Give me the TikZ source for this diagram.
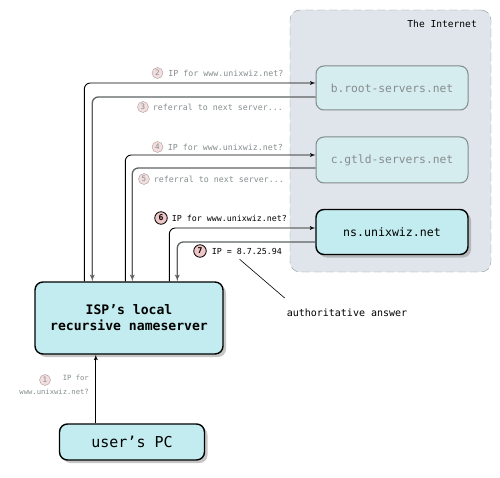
\documentclass[tikz,border=0pt]{standalone}
\usepackage{fontspec}
\setmonofont{DejaVu Sans Mono}
\usepackage{tikz}
\usetikzlibrary{arrows}
\usetikzlibrary{positioning}
\usetikzlibrary{shadows}

\definecolor{netbg}{HTML}{DFE5EA}
\definecolor{netline}{HTML}{8E979E}
\definecolor{boxcyan}{HTML}{C2ECEF}
\definecolor{fadedcyan}{HTML}{D6EDEF}
\definecolor{fadedline}{HTML}{7F8B8C}
\definecolor{fadedtext}{HTML}{858D8F}
\definecolor{numfill}{HTML}{F2DEDE}
\definecolor{numline}{HTML}{B09A9A}
\definecolor{darkpink}{HTML}{EFC6C6}
\definecolor{replygray}{HTML}{5E6262}

\begin{document}
\begin{tikzpicture}[x=1pt, y=-1pt, font=\ttfamily]
		\tikzset{server/.style={draw=black, line width=1.4pt, fill=boxcyan, rounded corners=8pt,
				drop shadow={opacity=0.45, shadow xshift=3pt, shadow yshift=-3pt}}}
		\tikzset{faded/.style={draw=fadedline, line width=1pt, fill=fadedcyan, text=fadedtext, rounded corners=8pt}}
		\tikzset{query/.style={->, > = latex', line width=0.9pt, rounded corners=6pt}}
		\tikzset{reply/.style={->, > = latex', draw=replygray, line width=1.3pt, rounded corners=6pt}}
		\tikzset{num/.style={circle, draw=numline, fill=numfill, text=fadedtext, inner sep=0pt,
				minimum size=11pt, font=\ttfamily\fontsize{7.5}{8}\selectfont}}
		\tikzset{numdark/.style={num, draw=black, line width=0.8pt, fill=darkpink, text=black,
				minimum size=12.5pt, font=\ttfamily\bfseries\fontsize{8}{8}\selectfont}}
		\tikzset{lbl/.style={text=fadedtext, inner sep=1pt, font=\ttfamily\fontsize{8.3}{10}\selectfont}}
		\useasboundingbox (0,0) rectangle (500,478);
		%the internet
		\node[draw=netline, dashed, dash pattern=on 8pt off 4pt, fill=netbg, rounded corners=10pt,
			minimum width=201pt, minimum height=262pt] (inet) at (390.5,141) {};
		\node[anchor=east, inner sep=0pt, font=\ttfamily\fontsize{9.6}{10}\selectfont] (inettxt) at (477,24) {The Internet};
		%servers
		\node[faded, minimum width=152pt, minimum height=44pt, font=\ttfamily\fontsize{11.3}{12}\selectfont] (broot) at (392,88) {b.root-servers.net};
		\node[faded, minimum width=152pt, minimum height=46pt, font=\ttfamily\fontsize{11.3}{12}\selectfont] (cgtld) at (392,160) {c.gtld-servers.net};
		\node[server, minimum width=152pt, minimum height=45pt, font=\ttfamily\fontsize{11.6}{12}\selectfont] (ns) at (392,232) {ns.unixwiz.net};
		\node[server, minimum width=188pt, minimum height=72pt, align=center,
			font=\ttfamily\bfseries\fontsize{13.1}{16}\selectfont] (isp) at (129,318) {ISP’s local\\recursive nameserver};
		\node[server, minimum width=145pt, minimum height=36pt, font=\ttfamily\fontsize{15}{16}\selectfont] (pc) at (132,442) {user’s PC};
		%labels
		\node[num] (n1) at (45,380) {1};
		\node[lbl, anchor=north east, align=right, font=\ttfamily\fontsize{7.2}{14}\selectfont] (t1) at (90,374) {IP for\\www.unixwiz.net?};
		\node[num] (n2) at (157.5,73) {2};
		\node[lbl, right=4pt of n2] (t2) {IP for www.unixwiz.net?};
		\node[num] (n3) at (143,107) {3};
		\node[lbl, right=3pt of n3] (t3) {referral to next server...};
		\node[num] (n4) at (157.5,147) {4};
		\node[lbl, right=3.5pt of n4] (t4) {IP for www.unixwiz.net?};
		\node[num] (n5) at (144,179) {5};
		\node[lbl, right=3pt of n5] (t5) {referral to next server...};
		\node[numdark] (n6) at (161,218) {6};
		\node[lbl, text=black, right=3pt of n6] (t6) {IP for www.unixwiz.net?};
		\node[numdark] (n7) at (200,251) {7};
		\node[lbl, text=black, right=4pt of n7] (t7) {IP = 8.7.25.94};
		\node[inner sep=1pt, font=\ttfamily\fontsize{10}{10}\selectfont] (auth) at (347,313) {authoritative answer};
		%edges
		\coordinate (pcup) at ([xshift=37pt]pc.north west);
		\draw[query] (pcup) -- (pcup |- isp.south);
		\draw[query] ([xshift=50pt]isp.north west) |- ([yshift=5pt]broot.west);
		\draw[reply] ([yshift=-9pt]broot.west) -| ([xshift=58pt]isp.north west);
		\draw[query] ([xshift=91pt]isp.north west) |- ([yshift=5pt]cgtld.west);
		\draw[reply] ([yshift=-8pt]cgtld.west) -| ([xshift=98pt]isp.north west);
		\draw[query] ([xshift=135pt]isp.north west) |- ([yshift=4pt]ns.west);
		\draw[reply] ([yshift=-10pt]ns.west) -| ([xshift=143pt]isp.north west);
		\draw[line width=0.6pt] ([xshift=-1pt,yshift=10pt]auth.north west) -- ([xshift=29pt,yshift=-4pt]t7.south west);
\end{tikzpicture}
\end{document}
